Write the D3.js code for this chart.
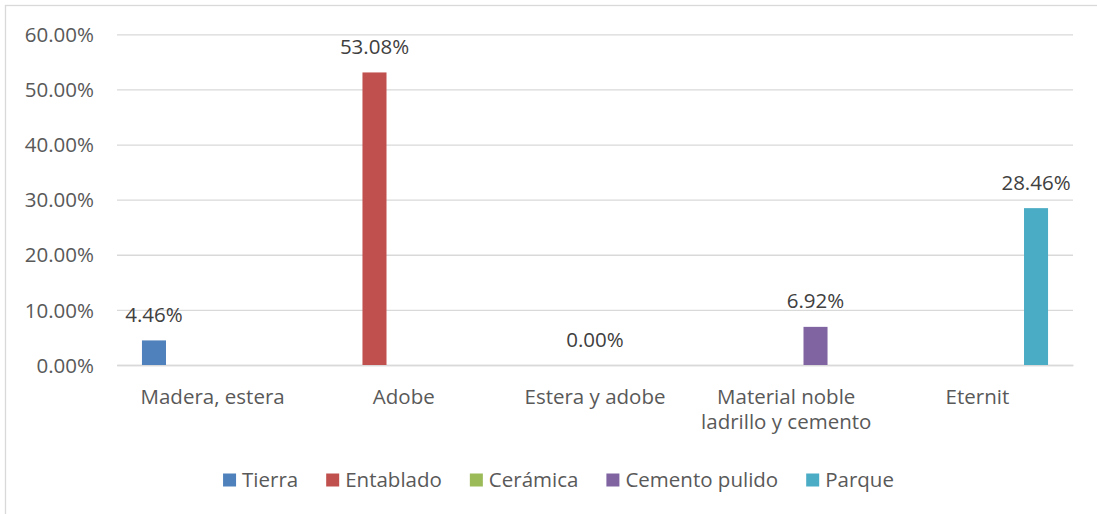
<!DOCTYPE html>
<html>
<head>
<meta charset="utf-8">
<script src="https://cdn.jsdelivr.net/npm/d3@7"></script>
<style>
  html, body { margin: 0; padding: 0; background: #fff; }
  svg { display: block; font-family: "Open Sans", "Noto Sans", sans-serif; }
</style>
</head>
<body>
<svg id="chart" width="1097" height="514"></svg>
<script>
// ---- data ----
const categories = ["Madera, estera", "Adobe", "Estera y adobe", "Material noble ladrillo y cemento", "Eternit"];
const seriesNames = ["Tierra", "Entablado", "Cerámica", "Cemento pulido", "Parque"];
const seriesColors = ["#4F81BD", "#C0504D", "#9BBB59", "#8064A2", "#4BACC6"];
const tierra        = [4.46, null, null, null, null];
const entablado     = [null, 53.08, null, null, null];
const ceramica      = [null, null, 0.00, null, null];
const cementoPulido = [null, null, null, 6.92, null];
const parque        = [null, null, null, null, 28.46];
const yTicks = [0, 10, 20, 30, 40, 50, 60];
const yTickLabels = ["0.00%", "10.00%", "20.00%", "30.00%", "40.00%", "50.00%", "60.00%"];

const seriesValues = [tierra, entablado, ceramica, cementoPulido, parque];

// ---- layout ----
const W = 1097, H = 514;
const plot = { left: 117, right: 1073, top: 34.3, bottom: 365 };
const svg = d3.select("#chart");
const FS = 20.5;

// chart border (only left/top visible in frame)
svg.append("rect")
  .attr("x", 5.5).attr("y", 5.5)
  .attr("width", 1200).attr("height", 600)
  .attr("fill", "none").attr("stroke", "#d9d9d9").attr("stroke-width", 1.3);

const x0 = d3.scaleBand().domain(categories).range([plot.left, plot.right])
  .paddingInner(0.261).paddingOuter(0.1305);
const x1 = d3.scaleBand().domain(seriesNames).range([0, x0.bandwidth()])
  .paddingInner(0.18).paddingOuter(0);
const y = d3.scaleLinear().domain([0, 60]).range([plot.bottom, plot.top]);

// gridlines
const yAxis = d3.axisLeft(y).tickValues(yTicks)
  .tickFormat((d, i) => yTickLabels[i])
  .tickSize(-(plot.right - plot.left)).tickPadding(23);
const gy = svg.append("g").attr("transform", `translate(${plot.left},0)`).call(yAxis);
gy.select(".domain").remove();
gy.selectAll(".tick line").attr("stroke", "#d9d9d9").attr("stroke-width", 1.3);
gy.selectAll(".tick text").attr("fill", "#595959").attr("font-size", FS)
  .attr("font-family", "Open Sans").attr("dy", "0.35em");

// x axis (labels only)
const xAxis = d3.axisBottom(x0).tickSize(0).tickPadding(0);
const gx = svg.append("g").attr("transform", `translate(0,${plot.bottom})`).call(xAxis);
gx.select(".domain").attr("stroke", "#d9d9d9").attr("stroke-width", 1.3);
gx.selectAll(".tick text").attr("fill", "#595959").attr("font-size", FS)
  .attr("font-family", "Open Sans")
  .attr("y", 39).attr("dy", 0)
  .call(wrap, x0.step() * 0.92);

function wrap(sel, width) {
  sel.each(function () {
    const text = d3.select(this);
    const words = text.text().split(/\s+/);
    const yy = text.attr("y");
    text.text(null);
    let line = [];
    let lineNo = 0;
    let tspan = text.append("tspan").attr("x", 0).attr("y", yy).attr("dy", 0);
    words.forEach(w => {
      line.push(w);
      tspan.text(line.join(" "));
      if (tspan.node().getComputedTextLength() > width && line.length > 1) {
        line.pop();
        tspan.text(line.join(" "));
        line = [w];
        lineNo++;
        tspan = text.append("tspan").attr("x", 0).attr("y", yy)
          .attr("dy", lineNo * 24.5).text(w);
      }
    });
  });
}

// bars
const barData = [];
seriesValues.forEach((vals, si) => {
  vals.forEach((v, ci) => {
    if (v !== null) barData.push({ s: seriesNames[si], c: categories[ci], v, color: seriesColors[si] });
  });
});
svg.append("g").selectAll("rect").data(barData).join("rect")
  .attr("x", d => x0(d.c) + x1(d.s))
  .attr("y", d => y(d.v))
  .attr("width", x1.bandwidth())
  .attr("height", d => y(0) - y(d.v))
  .attr("fill", d => d.color);

// data labels
svg.append("g").selectAll("text").data(barData).join("text")
  .attr("x", d => x0(d.c) + x1(d.s) + x1.bandwidth() / 2)
  .attr("y", d => y(d.v) - 18.5)
  .attr("text-anchor", "middle")
  .attr("font-size", FS).attr("fill", "#404040")
  .text(d => d.v.toFixed(2) + "%");

// legend
const lg = svg.append("g");
const items = lg.selectAll("g").data(seriesNames).join("g");
items.append("rect").attr("width", 13).attr("height", 13).attr("y", 473.5)
  .attr("fill", (d, i) => seriesColors[i]);
items.append("text").attr("x", 19).attr("y", 486.5)
  .attr("font-size", FS).attr("fill", "#595959").text(d => d);
let cx = 0;
const offs = [];
items.each(function () {
  const tw = d3.select(this).select("text").node().getComputedTextLength();
  offs.push(cx);
  cx += 19 + tw + 28;
});
const total = cx - 28;
const startX = 558.5 - total / 2;
items.attr("transform", (d, i) => `translate(${startX + offs[i]},0)`);
</script>
</body>
</html>
